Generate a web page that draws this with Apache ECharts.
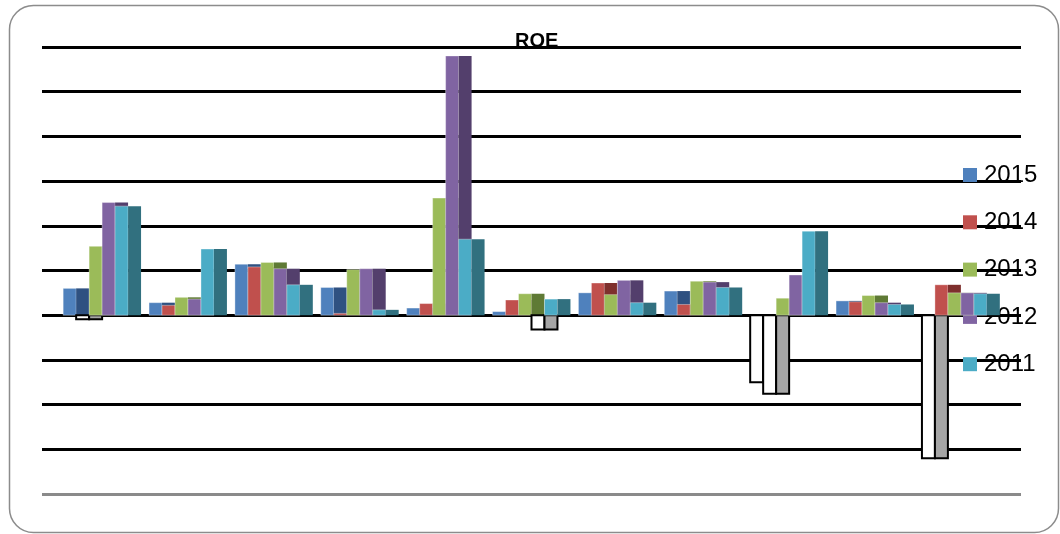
<!DOCTYPE html>
<html>
<head>
<meta charset="utf-8">
<script src="https://cdn.jsdelivr.net/npm/echarts@6/dist/echarts.min.js"></script>
<style>
html,body{margin:0;padding:0;background:#fff;}
#chart{width:1060px;height:534px;}
</style>
</head>
<body>
<div id="chart"></div>
<script>
// Data
var categories = ['1','2','3','4','5','6','7','8','9','10','11'];
var years = ['2015','2014','2013','2012','2011'];
var v2015 = [3.0, 1.4, 5.7, 3.1, 0.8, 0.4, 2.5, 2.7, -7.5, 1.6, -16.0];
var v2014 = [-0.45, 1.1, 5.4, 0.2, 1.3, 1.7, 3.6, 1.2, -8.8, 1.5, 3.4];
var v2013 = [7.7, 2.0, 5.9, 5.1, 13.1, 2.4, 2.3, 3.8, 1.9, 2.2, 2.5];
var v2012 = [12.6, 1.8, 5.2, 5.2, 29.0, -1.6, 3.9, 3.7, 4.5, 1.4, 2.5];
var v2011 = [12.2, 7.4, 3.4, 0.6, 8.5, 1.8, 1.4, 3.1, 9.4, 1.2, 2.4];
var seriesValues = [v2015, v2014, v2013, v2012, v2011];
var yTicks = [-20, -15, -10, -5, 0, 5, 10, 15, 20, 25, 30];

var lightColors = ['#4F81BD', '#C0504D', '#9BBB59', '#8064A2', '#4BACC6'];
var darkColors  = ['#2F5181', '#7E2F2D', '#5F7A35', '#533F6C', '#31707F'];
var SLOT = 13 / 86; // slot width as a fraction of a category

function makeRender(s) {
  return function (params, api) {
    var i = api.value(0), v = api.value(1);
    var base = api.coord([i, 0]);
    var tip = api.coord([i, v]);
    var slot = api.size([1, 0])[0] * SLOT;
    var x0 = base[0] - 3 * slot + s * slot;
    var y0 = Math.min(base[1], tip[1]);
    var h = Math.abs(base[1] - tip[1]);
    var neg = v < 0;
    return {
      type: 'group',
      children: [
        { type: 'rect', shape: { x: x0, y: y0, width: slot, height: h },
          style: neg ? { fill: '#ffffff', stroke: '#000', lineWidth: 2 } : { fill: lightColors[s], stroke: 'rgba(255,255,255,0.35)', lineWidth: 1 } },
        { type: 'rect', shape: { x: x0 + slot, y: y0, width: slot, height: h },
          style: neg ? { fill: '#a6a6a6', stroke: '#000', lineWidth: 2 } : { fill: darkColors[s] } }
      ]
    };
  };
}

var series = years.map(function (y, s) {
  return {
    name: y,
    type: 'custom',
    renderItem: makeRender(s),
    itemStyle: { color: lightColors[s] },
    encode: { x: 0, y: 1 },
    data: seriesValues[s].map(function (v, i) { return [i, v]; }),
    z: 2 + s
  };
});

var splitColors = yTicks.map(function (t, k) { return k === 0 ? '#8a8a8a' : '#000'; });

var chart = echarts.init(document.getElementById('chart'), null, { renderer: 'canvas' });
chart.setOption({
  animation: false,
  backgroundColor: '#fff',
  graphic: [{
    type: 'rect', z: -10,
    shape: { x: 9.5, y: 5.5, width: 1049, height: 527, r: 24 },
    style: { fill: 'none', stroke: '#8c8c8c', lineWidth: 1.5 }
  }],
  title: {
    text: 'ROE', left: 515, top: 31, padding: 0,
    textStyle: { fontFamily: 'Liberation Sans', fontWeight: 'bold', fontSize: 20, color: '#000' }
  },
  legend: {
    orient: 'vertical', left: 963, top: 162, padding: 0,
    itemWidth: 14, itemHeight: 14, itemGap: 21.3, icon: 'rect',
    data: years,
    textStyle: { fontFamily: 'Liberation Sans', fontSize: 24, color: '#000', lineHeight: 26, padding: [0, 0, 0, 2] }
  },
  grid: { left: 42, right: 39, top: 47, bottom: 40 },
  xAxis: {
    type: 'value', min: -0.7, max: 10.7,
    axisLine: { show: false }, axisTick: { show: false }, axisLabel: { show: false }, splitLine: { show: false }
  },
  yAxis: {
    type: 'value', min: -20, max: 30, interval: 5,
    axisLine: { show: false }, axisTick: { show: false }, axisLabel: { show: false },
    splitLine: { show: true, lineStyle: { color: splitColors, width: 3 } }
  },
  series: series
});
</script>
</body>
</html>
